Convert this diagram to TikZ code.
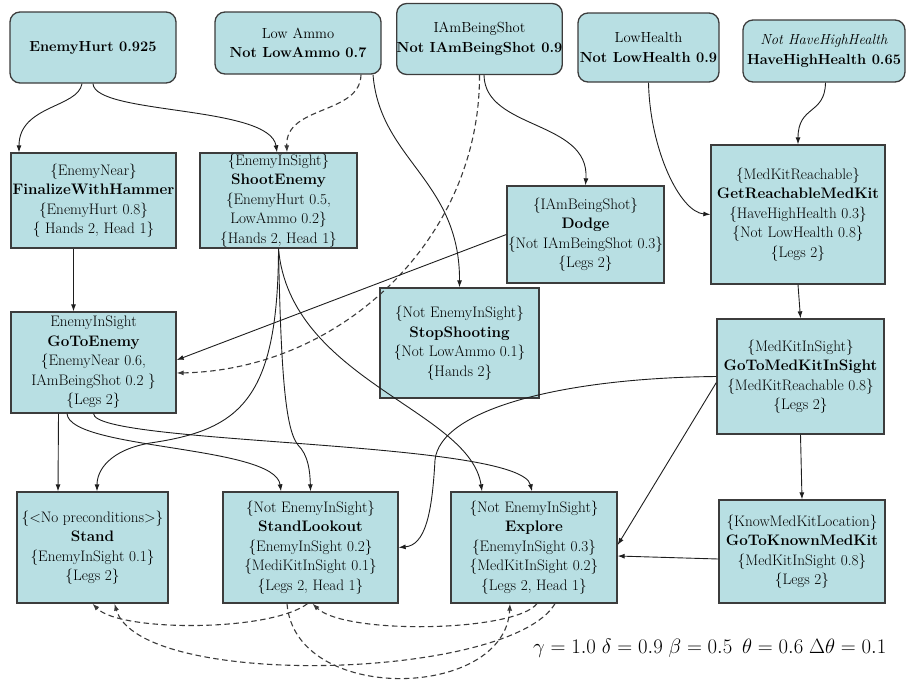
\documentclass[tikz,border=0pt]{standalone}
\usepackage{fontspec}
\usetikzlibrary{arrows.meta}
\definecolor{boxFill}{HTML}{B8DFE3}
\definecolor{boxLine}{HTML}{3C3C3C}
\definecolor{wire}{HTML}{1E1E1E}
\definecolor{dashWire}{HTML}{3A3A3A}

\begin{document}
\begin{tikzpicture}[x=1pt,y=-1pt]
    \tikzset{act/.style={draw=boxLine,fill=boxFill,line width=1.3pt,inner sep=0pt,align=center,font=\fontsize{15.2}{19.5}\selectfont}, goal/.style={act,rounded corners=10pt,font=\fontsize{14.6}{19.5}\selectfont}, link/.style={-{Latex[length=7pt,width=5pt]},draw=wire,line width=0.9pt}, soft/.style={link,draw=dashWire,line width=1.1pt,dash pattern=on 5.5pt off 3.5pt}}
    \useasboundingbox (0,0) rectangle (907,683);
    \node[goal,minimum width=166pt,minimum height=71pt] (hurt) at (93,47.5) {\textbf{EnemyHurt 0.925}};
    \node[goal,minimum width=166pt,minimum height=62pt] (ammo) at (298,43) {Low Ammo\\\textbf{Not LowAmmo 0.7}};
    \node[goal,minimum width=165pt,minimum height=71pt] (shot) at (479.5,39) {IAmBeingShot\\\textbf{Not IAmBeingShot 0.9}};
    \node[goal,minimum width=141pt,minimum height=69pt] (health) at (648.5,47.5) {LowHealth\\\textbf{Not LowHealth 0.9}};
    \node[goal,minimum width=162pt,minimum height=62pt] (high) at (824,51) {\textit{Not HaveHighHealth}\\\textbf{HaveHighHealth 0.65}};
    \node[act,minimum width=165pt,minimum height=95pt] (hammer) at (93.5,200.5) {\{EnemyNear\}\\\textbf{FinalizeWithHammer}\\\{EnemyHurt 0.8\}\\\{ Hands 2, Head 1\}};
    \node[act,minimum width=157pt,minimum height=95pt] (shoot) at (278.5,200.5) {\{EnemyInSight\}\\\textbf{ShootEnemy}\\\{EnemyHurt 0.5,\\LowAmmo 0.2\}\\\{Hands 2, Head 1\}};
    \node[act,minimum width=157pt,minimum height=97pt] (dodge) at (585.5,234.5) {\{IAmBeingShot\}\\\textbf{Dodge}\\\{Not IAmBeingShot 0.3\}\\\{Legs 2\}};
    \node[act,minimum width=174pt,minimum height=139pt] (reach) at (798,214.5) {\{MedKitReachable\}\\\textbf{GetReachableMedKit}\\\{HaveHighHealth 0.3\}\\\{Not LowHealth 0.8\}\\\{Legs 2\}};
    \node[act,minimum width=159pt,minimum height=110pt] (stop) at (459.5,343) {\{Not EnemyInSight\}\\\textbf{StopShooting}\\\{Not LowAmmo 0.1\}\\\{Hands 2\}};
    \node[act,minimum width=165pt,minimum height=101pt] (chase) at (93.5,362.5) {EnemyInSight\\\textbf{GoToEnemy}\\\{EnemyNear 0.6,\\IAmBeingShot 0.2 \}\\\{Legs 2\}};
    \node[act,minimum width=167pt,minimum height=115pt] (insight) at (800.5,376.5) {\{MedKitInSight\}\\\textbf{GoToMedKitInSight}\\\{MedKitReachable 0.8\}\\\{Legs 2\}};
    \node[act,minimum width=151pt,minimum height=111pt] (stand) at (92.5,547.5) {\{<No preconditions>\}\\\textbf{Stand}\\\{EnemyInSight 0.1\}\\\{Legs 2\}};
    \node[act,minimum width=175pt,minimum height=111pt] (lookout) at (310.5,547.5) {\{Not EnemyInSight\}\\\textbf{StandLookout}\\\{EnemyInSight 0.2\}\\\{MediKitInSight 0.1\}\\\{Legs 2, Head 1\}};
    \node[act,minimum width=166pt,minimum height=111pt] (explore) at (534,547.5) {\{Not EnemyInSight\}\\\textbf{Explore}\\\{EnemyInSight 0.3\}\\\{MedKitInSight 0.2\}\\\{Legs 2, Head 1\}};
    \node[act,minimum width=166pt,minimum height=103pt] (known) at (802,551.5) {\{KnowMedKitLocation\}\\\textbf{GoToKnownMedKit}\\\{MedKitInSight 0.8\}\\\{Legs 2\}};
    \node[anchor=base west,inner sep=0pt,font=\fontsize{19.5}{24}\selectfont] (params) at (533,653) {$\gamma = 1.0\ \delta = 0.9\ \beta = 0.5\enspace \theta = 0.6\ \Delta\theta = 0.1$};
    \draw[link] ([xshift=-11pt]hurt.south) .. controls (78,108) and (19,105) .. ([xshift=-74.5pt]hammer.north);
    \draw[link] (hurt.south) .. controls (95,115) and (270,105) .. ([xshift=-1.5pt]shoot.north);
    \draw[soft] ([xshift=63pt]ammo.south) .. controls (360,115) and (285,105) .. ([xshift=8.5pt]shoot.north);
    \draw[link] ([xshift=75pt]ammo.south) .. controls (380,160) and (460,180) .. (stop.north);
    \draw[link] ([xshift=4.5pt]shot.south) .. controls (485,130) and (590,120) .. (dodge.north);
    \draw[soft] (shot.south) .. controls (480,240) and (340,370) .. ([yshift=-10.5pt]chase.east);
    \draw[link] (dodge.west) -- ([yshift=2.5pt]chase.east);
    \draw[link] (health.south) .. controls (650,150) and (680,212) .. (reach.west);
    \draw[link] ([xshift=1.5pt]high.south) .. controls (825,115) and (798,105) .. (reach.north);
    \draw[link] (reach.south) -- (insight.north);
    \draw[link] (insight.west) .. controls (560,378) and (440,410) .. (435,460) .. controls (432,515) and (425,545) .. (lookout.east);
    \draw[link] ([yshift=-6pt]insight.west) -- ([yshift=2.5pt]explore.east);
    \draw[link] (insight.south) -- (known.north);
    \draw[link] ([yshift=-7.5pt]known.west) -- ([yshift=-8.5pt]explore.east);
    \draw[link] ([xshift=-20pt]hammer.south) -- ([xshift=-20pt]chase.north);
    \draw[link] ([xshift=-35pt]chase.south) -- ([xshift=-34.5pt]stand.north);
    \draw[link] ([xshift=-26.5pt]chase.south) .. controls (70,450) and (275,445) .. ([xshift=-29.5pt]lookout.north);
    \draw[link] (chase.south) .. controls (95,445) and (520,440) .. ([xshift=-2pt]explore.north);
    \draw[link] (shoot.south) .. controls (278,400) and (240,430) .. (150,443) .. controls (110,450) and (97,470) .. ([xshift=4.5pt]stand.north);
    \draw[link] (shoot.south) .. controls (281,380) and (286,430) .. (298,445) .. controls (308,455) and (310,470) .. (lookout.north);
    \draw[link] (shoot.south) .. controls (290,380) and (470,410) .. ([xshift=-52pt]explore.north);
    \draw[soft] ([xshift=3pt]explore.south) .. controls (515,632) and (345,635) .. ([xshift=2pt]lookout.south);
    \draw[soft] ([xshift=21pt]explore.south) .. controls (510,680) and (140,690) .. ([xshift=22pt]stand.south);
    \draw[soft] ([xshift=-23.5pt]lookout.south) .. controls (295,705) and (505,700) .. ([xshift=-24pt]explore.south);
    \draw[soft] ([xshift=-3pt]lookout.south) .. controls (270,632) and (120,632) .. (stand.south);
  \end{tikzpicture}
\end{document}
